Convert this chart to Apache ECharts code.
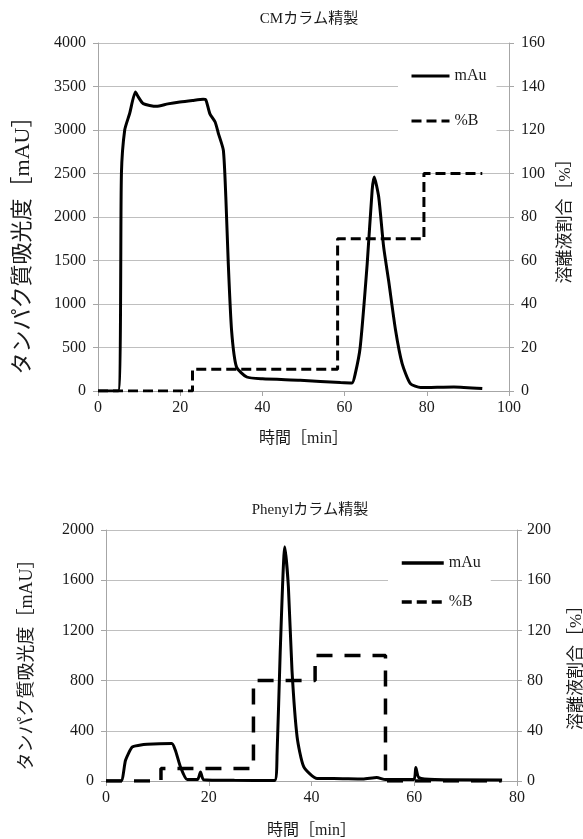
<!DOCTYPE html>
<html>
<head>
<meta charset="utf-8">
<script src="https://cdn.jsdelivr.net/npm/echarts@6/dist/echarts.min.js"></script>
<style>
html,body{margin:0;padding:0;background:#fff;}
#c{width:583px;height:839px;}
</style>
</head>
<body>
<div id="c"></div>
<script>
// ---- CM column purification ----
const cmTitle = 'CMカラム精製';
const cmTime = [0, 4.9, 5.7, 6.5, 7.7, 9.1, 9.8, 11.0, 14.2, 17, 19.9, 23, 25.6, 26.2, 27.2, 28.5, 29.3, 30.5, 31.1, 31.7, 32.5, 33.7, 36.2, 40, 49.2, 59, 61.8, 62.6, 63.8, 65.5, 66.7, 67.2, 68.3, 69.5, 70.7, 72.4, 74.0, 76.0, 78.5, 86.6, 93.5];
const cmMAu  = [0, 0, 2500, 3000, 3190, 3437, 3380, 3303, 3272, 3300, 3322, 3340, 3353, 3350, 3189, 3092, 2959, 2767, 2230, 1464, 698, 276, 161, 140, 123, 97, 92, 200, 506, 1464, 2307, 2460, 2230, 1656, 1272, 698, 315, 85, 39, 46, 28];
const cmBTime = [0, 23, 23, 58.3, 58.3, 79.3, 79.3, 93.5];
const cmB     = [0, 0, 10, 10, 70, 70, 100, 100];

// ---- Phenyl column purification ----
const phTitle = 'Phenylカラム精製';
const phTime = [0, 2.9, 3.8, 5.1, 6.5, 8.0, 12.8, 13.5, 14.5, 15.8, 17.8, 18.4, 19.0, 25, 32.8, 33.3, 33.9, 34.8, 35.5, 36.2, 37.2, 38.5, 41.1, 44.3, 50, 52.7, 54.4, 59.9, 60.3, 60.9, 64, 77.1];
const phMAu  = [0, 0, 165, 271, 285, 293, 298, 245, 112, 11, 11, 72, 10, 5, 3, 218, 1016, 1867, 1548, 883, 351, 112, 19, 19, 15, 27, 11, 11, 107, 27, 11, 8];
const phBTime = [0, 10.7, 10.7, 28.7, 28.7, 40.7, 40.7, 54.4, 54.4, 77];
const phB     = [0, 0, 10, 10, 80, 80, 100, 100, 0, 0];

const seriesNames = ['mAu', '%B'];
const xName = '時間［min］';
const leftName = 'タンパク質吸光度［mAU］';
const rightName = '溶離液割合［%］';

const FONT = "'Liberation Serif', 'Noto Sans CJK JP', serif";
const TXT = '#1a1a1a';
const AXC = '#a6a6a6';
const GRIDC = '#bfbfbf';

function pairs(xs, ys){ return xs.map((x,i)=>[x, ys[i]]); }
const plain = v => String(v);

function xAxis(gi, max){
  return {
    type:'value', gridIndex:gi, min:0, max:max, interval:20,
    name:xName, nameLocation:'middle', nameGap: gi===0?40:42,
    nameTextStyle:{fontFamily:FONT, fontSize:16, color:TXT},
    axisLine:{show:true, lineStyle:{color:AXC}},
    axisTick:{show:true, length:5, lineStyle:{color:AXC}},
    axisLabel:{fontFamily:FONT, fontSize:16, color:TXT, margin:9, formatter:plain},
    splitLine:{show:false}
  };
}
function yLeft(gi, max, interval, gap, nameSize, pad){
  return {
    type:'value', gridIndex:gi, min:0, max:max, interval:interval, position:'left',
    name:leftName, nameLocation:'middle', nameGap:gap,
    nameTextStyle:{fontFamily:FONT, fontSize:nameSize, color:TXT, padding:pad},
    axisLine:{show:true, lineStyle:{color:AXC}},
    axisTick:{show:true, length:5, lineStyle:{color:AXC}},
    axisLabel:{fontFamily:FONT, fontSize:16, color:TXT, margin:12, formatter:plain},
    splitLine:{show:true, lineStyle:{color:GRIDC, width:1}}
  };
}
function yRight(gi, max, interval, gap, nameSize, pad, margin){
  return {
    type:'value', gridIndex:gi, min:0, max:max, interval:interval, position:'right',
    name:rightName, nameLocation:'middle', nameGap:gap,
    nameTextStyle:{fontFamily:FONT, fontSize:nameSize, color:TXT, padding:pad},
    axisLine:{show:true, lineStyle:{color:AXC}},
    axisTick:{show:true, length:5, lineStyle:{color:AXC}},
    axisLabel:{fontFamily:FONT, fontSize:16, color:TXT, margin:margin, formatter:plain},
    splitLine:{show:false}
  };
}

const chart = echarts.init(document.getElementById('c'), null, {renderer:'canvas'});
chart.setOption({
  backgroundColor:'#fff',
  animation:false,
  title:[
    {text:cmTitle, left:304, top:7, textAlign:'center',
     textStyle:{fontFamily:FONT, fontSize:15, fontWeight:'normal', color:TXT}},
    {text:phTitle, left:305, top:498, textAlign:'center',
     textStyle:{fontFamily:FONT, fontSize:15, fontWeight:'normal', color:TXT}}
  ],
  grid:[
    {left:98, top:43, width:411, height:348, outerBoundsMode:'none', containLabel:false},
    {left:106, top:530, width:411, height:251, outerBoundsMode:'none', containLabel:false}
  ],
  legend:[
    {data:seriesNames.map(n=>({name:n})), orient:'vertical', left:398, top:60,
     padding:[8,10,8,12], itemWidth:38, itemHeight:14, itemGap:29,
     itemStyle:{opacity:0, borderWidth:0}, lineStyle:{width:3},
     backgroundColor:'#fff', textStyle:{fontFamily:FONT, fontSize:16, color:TXT}},
    {data:seriesNames.map(n=>({name:n})), orient:'vertical', left:388, top:547,
     padding:[8,10,8,12], itemWidth:42, itemHeight:14, itemGap:23,
     itemStyle:{opacity:0, borderWidth:0}, lineStyle:{width:3.5},
     backgroundColor:'#fff', textStyle:{fontFamily:FONT, fontSize:16, color:TXT}}
  ],
  xAxis:[xAxis(0,100), xAxis(1,80)],
  yAxis:[
    yLeft(0, 4000, 500, 64, 22, [0,46,0,0]),
    yRight(0, 160, 20, 48, 17, [0,0,0,0], 12),
    yLeft(1, 2000, 400, 70, 18, [0,10,0,0]),
    yRight(1, 200, 40, 51, 17, [0,16,0,0], 10)
  ],
  series:[
    {name:seriesNames[0], type:'line', xAxisIndex:0, yAxisIndex:0, data:pairs(cmTime, cmMAu),
     symbol:'none', smooth:0.2, z:4, lineStyle:{color:'#000', width:3}, itemStyle:{color:'#000'}},
    {name:seriesNames[1], type:'line', xAxisIndex:0, yAxisIndex:1, data:pairs(cmBTime, cmB),
     symbol:'none', z:3, lineStyle:{color:'#000', width:3, type:[10,5]}, itemStyle:{color:'#000'}},
    {name:seriesNames[0], type:'line', xAxisIndex:1, yAxisIndex:2, data:pairs(phTime, phMAu),
     symbol:'none', smooth:0.2, z:4, lineStyle:{color:'#000', width:3}, itemStyle:{color:'#000'}},
    {name:seriesNames[1], type:'line', xAxisIndex:1, yAxisIndex:3, data:pairs(phBTime, phB),
     symbol:'none', z:3, lineStyle:{color:'#000', width:3.5, type:[16,12]}, itemStyle:{color:'#000'}}
  ]
});
</script>
</body>
</html>
